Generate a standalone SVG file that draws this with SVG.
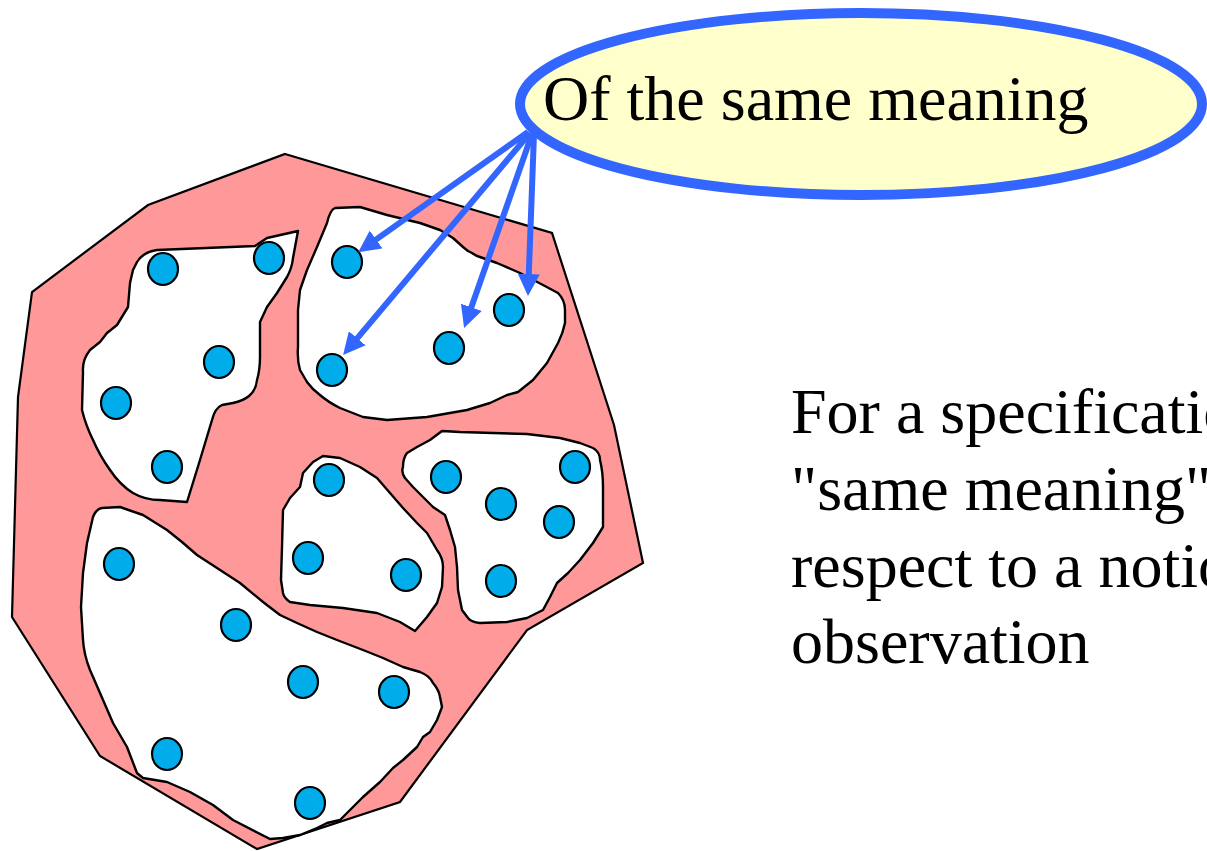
<svg xmlns="http://www.w3.org/2000/svg" width="1207" height="851" viewBox="0 0 1207 851">
<style>
.outer{fill:#ff9999;stroke:#000;stroke-width:2.2;stroke-linejoin:miter}
.blob{fill:#fff;stroke:#000;stroke-width:2.4;stroke-linejoin:round}
.dot{fill:#00adea;stroke:#000;stroke-width:2.2}
.arrow{stroke:#3366ff;stroke-width:6;fill:none;marker-end:url(#ah)}
.t{font-family:"Liberation Serif","Times New Roman",serif;font-size:64px;fill:#000}
</style>
<defs>
<marker id="ah" markerUnits="userSpaceOnUse" viewBox="0 0 22 22" refX="8" refY="11" markerWidth="22" markerHeight="22" orient="auto">
<path d="M0,0 L22,11 L0,22 z" fill="#3366ff"/>
</marker>
</defs>
<rect width="1207" height="851" fill="#fff"/>
<g id="region">
<path class="outer" d="M285,154 L552,233 L614,425 L643,563 L527,630 L400,802 L257,849 L100,756 L12,617 L18,397 L32,292 L148,205 Z"/>
</g>
<g id="cluster-a">
<path class="blob" d="M298,231 L267,238 L255,246 L157,250 Q143,252 137,262 L133,270 L130,283 L128,307 L117,325 L107,333 L100,342 L90,350 Q82,360 83,372 L82,410 Q86,426 93,440 Q100,456 110,470 Q120,485 133,493 Q145,500 160,500 L187,502 L200,460 L212,420 Q215,408 222,405 L233,403 Q243,401 249,396 Q256,390 257,380 Q260,370 260,357 L260,322 L267,307 L277,293 L287,277 Q292,268 293,258 Z"/>
<ellipse class="dot" cx="163" cy="269" rx="15" ry="16"/>
<ellipse class="dot" cx="269" cy="258" rx="15" ry="16"/>
<ellipse class="dot" cx="219" cy="362" rx="15" ry="16"/>
<ellipse class="dot" cx="116" cy="403" rx="15" ry="16"/>
<ellipse class="dot" cx="167" cy="467" rx="15" ry="16"/>
</g>
<g id="cluster-b">
<path class="blob" d="M335,208 L360,207 L387,215 L420,223 L440,230 L453,238 L463,247 L468,251 L472,253 Q476,256 480,257 L497,263 L520,273 L543,285 L558,293 Q565,300 565,310 L565,323 Q563,333 558,343 L547,363 L533,380 L518,392 L507,395 L490,403 L467,410 L427,417 L387,420 L363,417 L340,408 Q328,402 320,395 Q312,389 307,382 L300,370 Q297,360 298,347 L298,310 L300,290 L307,270 L317,247 L327,223 Q330,210 335,208 Z"/>
<ellipse class="dot" cx="347" cy="262" rx="15" ry="16"/>
<ellipse class="dot" cx="332" cy="370" rx="15" ry="16"/>
<ellipse class="dot" cx="449" cy="348" rx="15" ry="16"/>
<ellipse class="dot" cx="509" cy="310" rx="15" ry="16"/>
</g>
<g id="cluster-c">
<path class="blob" d="M323,456 L340,458 L360,467 L377,478 L390,493 L403,508 L417,523 L427,533 L437,550 Q443,558 443,567 L442,587 L437,603 L427,617 L415,631 L400,622 L377,613 L343,608 L310,605 L290,602 Q284,598 283,593 L281,580 L282,547 L283,510 L290,498 L300,487 L303,473 L313,462 Z"/>
<ellipse class="dot" cx="329" cy="480" rx="15" ry="16"/>
<ellipse class="dot" cx="308" cy="558" rx="15" ry="16"/>
<ellipse class="dot" cx="406" cy="575" rx="15" ry="16"/>
</g>
<g id="cluster-d">
<path class="blob" d="M442,431 L460,432 L493,433 L527,434 L560,438 L580,443 L593,448 Q600,452 600,460 Q603,472 603,487 L603,527 L593,543 L580,560 L568,573 L557,583 L550,597 L543,610 L527,618 L507,622 L480,623 Q471,622 468,618 L462,610 L458,590 L457,567 L455,547 L450,530 L445,515 L433,507 L423,497 L413,487 L405,478 Q401,472 403,467 Q403,458 407,453 L417,447 L430,440 Z"/>
<ellipse class="dot" cx="446" cy="477" rx="15" ry="16"/>
<ellipse class="dot" cx="575" cy="467" rx="15" ry="16"/>
<ellipse class="dot" cx="501" cy="504" rx="15" ry="16"/>
<ellipse class="dot" cx="559" cy="522" rx="15" ry="16"/>
<ellipse class="dot" cx="501" cy="581" rx="15" ry="16"/>
</g>
<g id="cluster-e">
<path class="blob" d="M102,508 L120,507 L143,515 L167,530 L182,542 L197,555 L217,568 L240,583 L263,602 L280,615 L297,623 L317,632 L337,640 L363,650 L383,658 L403,667 L420,672 Q430,676 433,683 Q439,690 440,697 L442,707 L437,720 L430,732 L423,737 L417,747 L403,760 L393,768 L380,782 L363,797 L350,810 L340,820 L327,823 L317,828 L300,835 L283,838 L270,839 L233,820 L213,805 L190,792 L167,782 L143,778 L137,773 L127,747 L113,723 L100,693 L90,670 Q84,655 83,640 L81,607 L83,573 L87,543 L93,517 Q96,509 102,508 Z"/>
<ellipse class="dot" cx="119" cy="564" rx="15" ry="16"/>
<ellipse class="dot" cx="236" cy="625" rx="15" ry="16"/>
<ellipse class="dot" cx="303" cy="682" rx="15" ry="16"/>
<ellipse class="dot" cx="394" cy="692" rx="15" ry="16"/>
<ellipse class="dot" cx="167" cy="754" rx="15" ry="16"/>
<ellipse class="dot" cx="310" cy="803" rx="15" ry="16"/>
</g>
<g id="connectors">
<line class="arrow" x1="528" y1="132" x2="369.6" y2="244.1"/>
<line class="arrow" x1="530" y1="133" x2="352.1" y2="344.4"/>
<line class="arrow" x1="532" y1="134" x2="468.7" y2="314.8"/>
<line class="arrow" x1="534" y1="134" x2="528.5" y2="282"/>
</g>
<g id="callout">
<ellipse cx="861" cy="104" rx="341" ry="91" fill="#ffffcc" stroke="#3366ff" stroke-width="10"/>
<text class="t" x="543" y="120">Of the same meaning</text>
</g>
<g id="note">
<text class="t" x="791" y="433">For a specificatio</text>
<text class="t" x="791" y="510">"same meaning"</text>
<text class="t" x="791" y="587">respect to a notio</text>
<text class="t" x="791" y="663">observation</text>
</g>
</svg>
